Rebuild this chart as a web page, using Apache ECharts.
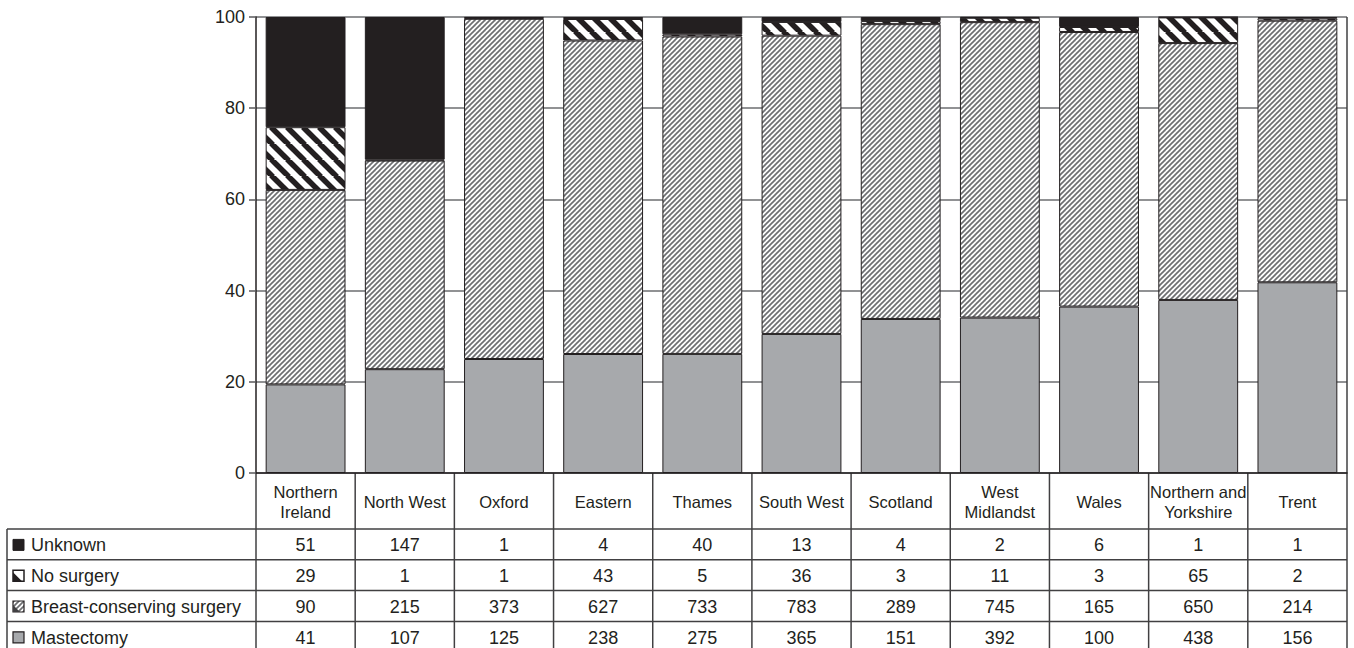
<!DOCTYPE html>
<html><head><meta charset="utf-8">
<script src="https://cdn.jsdelivr.net/npm/echarts@6/dist/echarts.min.js"></script>
<style>html,body{margin:0;padding:0;background:#fff}#c{width:1354px;height:648px}</style>
</head><body><div id="c"></div>
<script>
const categories = ['Northern\nIreland','North West','Oxford','Eastern','Thames','South West','Scotland','West\nMidlandst','Wales','Northern and\nYorkshire','Trent'];
const unknown = [51,147,1,4,40,13,4,2,6,1,1];
const noSurgery = [29,1,1,43,5,36,3,11,3,65,2];
const breastConserving = [90,215,373,627,733,783,289,745,165,650,214];
const mastectomy = [41,107,125,238,275,365,151,392,100,438,156];
const rowNames = ['Unknown','No surgery','Breast-conserving surgery','Mastectomy'];
const rowValues = [unknown, noSurgery, breastConserving, mastectomy];
const yMin = 0, yMax = 100, yStep = 20;

const FONT = '"Liberation Sans", Arial, Helvetica, sans-serif';
const INK = '#231f20';

function stripeCanvas(size, dir, lineW, stroke, bg) {
  const c = document.createElement('canvas'); c.width = size; c.height = size;
  const g = c.getContext('2d');
  g.fillStyle = bg; g.fillRect(0, 0, size, size);
  g.strokeStyle = stroke; g.lineWidth = lineW;
  for (let k = -1; k <= 1; k++) {
    g.beginPath();
    if (dir === '/') { g.moveTo(k * size - 1, size + 1); g.lineTo(k * size + size + 1, -1); }
    else { g.moveTo(k * size - 1, -1); g.lineTo(k * size + size + 1, size + 1); }
    g.stroke();
  }
  return c;
}
const hatchCanvas = stripeCanvas(5, '/', 1.7, '#6d6e71', '#ffffff');
const stripeCanvasThick = stripeCanvas(16, '\\', 5.5, INK, '#ffffff');
const hatchFill = { image: hatchCanvas, repeat: 'repeat', imageWidth: 5, imageHeight: 5 };
const stripeFill = { image: stripeCanvasThick, repeat: 'repeat', imageWidth: 16, imageHeight: 16 };

const totals = categories.map((_, i) => unknown[i] + noSurgery[i] + breastConserving[i] + mastectomy[i]);
const pct = arr => arr.map((v, i) => v / totals[i] * 100);

const chart = echarts.init(document.getElementById('c'), null, { renderer: 'svg' });
const borderStyle = { borderColor: INK, borderWidth: 1 };
chart.setOption({
  animation: false,
  backgroundColor: '#fff',
  grid: { left: 256, right: 7, top: 17, bottom: 175, containLabel: false },
  xAxis: {
    type: 'category', data: categories,
    axisLine: { show: true, lineStyle: { color: INK, width: 1.5 } },
    axisTick: { show: false }, axisLabel: { show: false }, splitLine: { show: false }
  },
  yAxis: {
    type: 'value', min: yMin, max: yMax, interval: yStep,
    axisLine: { show: true, lineStyle: { color: INK, width: 1.5 } },
    axisTick: { show: true, length: 7, lineStyle: { color: '#58595b', width: 1.5 } },
    axisLabel: { fontSize: 18, color: INK, margin: 11, fontFamily: FONT },
    splitLine: { show: true, lineStyle: { color: '#6d6e71', width: 1.5 } }
  },
  series: [
    { name: 'Mastectomy', type: 'bar', stack: 's', barCategoryGap: '19.5%', data: pct(mastectomy), itemStyle: Object.assign({ color: '#a7a9ac' }, borderStyle) },
    { name: 'Breast-conserving surgery', type: 'bar', stack: 's', data: pct(breastConserving), itemStyle: Object.assign({ color: hatchFill }, borderStyle) },
    { name: 'No surgery', type: 'bar', stack: 's', data: pct(noSurgery), itemStyle: Object.assign({ color: stripeFill }, borderStyle) },
    { name: 'Unknown', type: 'bar', stack: 's', data: pct(unknown), itemStyle: Object.assign({ color: INK }, borderStyle) }
  ]
});

// ---- data table under the axis, positioned from the axis scales ----
const n = categories.length;
const c0 = chart.convertToPixel({ xAxisIndex: 0 }, 0);
const c1 = chart.convertToPixel({ xAxisIndex: 0 }, 1);
const band = c1 - c0;
const xL = c0 - band / 2, xR = xL + band * n;
const yBase = chart.convertToPixel({ yAxisIndex: 0 }, yMin);
const yTop = chart.convertToPixel({ yAxisIndex: 0 }, yMax);
const headerH = 56, rowH = 30.8, labelLeft = 7;
const tableBottom = yBase + headerH + rowH * rowNames.length;
const lineStyle = { stroke: '#414042', lineWidth: 1.5 };
const g = [];
// right border of plot + table
g.push({ type: 'line', shape: { x1: xR, y1: yTop, x2: xR, y2: tableBottom }, style: lineStyle, silent: true });
// vertical column lines
for (let i = 0; i < n; i++) {
  const x = xL + band * i;
  g.push({ type: 'line', shape: { x1: x, y1: yBase, x2: x, y2: tableBottom }, style: lineStyle, silent: true });
}
g.push({ type: 'line', shape: { x1: labelLeft, y1: yBase + headerH, x2: labelLeft, y2: tableBottom }, style: lineStyle, silent: true });
// horizontal lines
for (let r = 0; r <= rowNames.length; r++) {
  const y = yBase + headerH + rowH * r;
  g.push({ type: 'line', shape: { x1: labelLeft, y1: y, x2: xR, y2: y }, style: lineStyle, silent: true });
}
// header category texts
categories.forEach((c, i) => {
  g.push({ type: 'text', x: c0 + band * i, y: yBase + headerH / 2 + 1, silent: true,
    style: { text: c, fontSize: 16.5, lineHeight: 20, fontFamily: FONT, fill: INK, align: 'center', verticalAlign: 'middle' } });
});
// rows
rowNames.forEach((name, r) => {
  const yc = yBase + headerH + rowH * r + rowH / 2 + 1;
  g.push({ type: 'text', x: 31, y: yc, silent: true,
    style: { text: name, fontSize: 18, fontFamily: FONT, fill: INK, align: 'left', verticalAlign: 'middle' } });
  rowValues[r].forEach((v, i) => {
    g.push({ type: 'text', x: c0 + band * i, y: yc, silent: true,
      style: { text: String(v), fontSize: 18, fontFamily: FONT, fill: INK, align: 'center', verticalAlign: 'middle' } });
  });
  const mx = 13, my = yc - 6, ms = 11;
  if (r === 0) {
    g.push({ type: 'rect', shape: { x: mx, y: my, width: ms, height: ms }, style: { fill: INK, stroke: INK, lineWidth: 1 }, silent: true });
  } else if (r === 1) {
    g.push({ type: 'rect', shape: { x: mx, y: my, width: ms, height: ms }, style: { fill: '#fff', stroke: INK, lineWidth: 1.5 }, silent: true });
    g.push({ type: 'polygon', shape: { points: [[mx, my + 2], [mx + ms - 2, my + ms], [mx, my + ms]] }, style: { fill: INK }, silent: true });
  } else if (r === 2) {
    g.push({ type: 'rect', shape: { x: mx, y: my, width: ms, height: ms }, style: { fill: hatchFill, stroke: INK, lineWidth: 1.2 }, silent: true });
    g.push({ type: 'polygon', shape: { points: [[mx, my + 4], [mx + ms - 4, my + ms], [mx, my + ms]] }, style: { fill: '#414042' }, silent: true });
  } else {
    g.push({ type: 'rect', shape: { x: mx, y: my, width: ms, height: ms }, style: { fill: '#a7a9ac', stroke: INK, lineWidth: 1.2 }, silent: true });
  }
});
chart.setOption({ graphic: g });
</script>
</body></html>
